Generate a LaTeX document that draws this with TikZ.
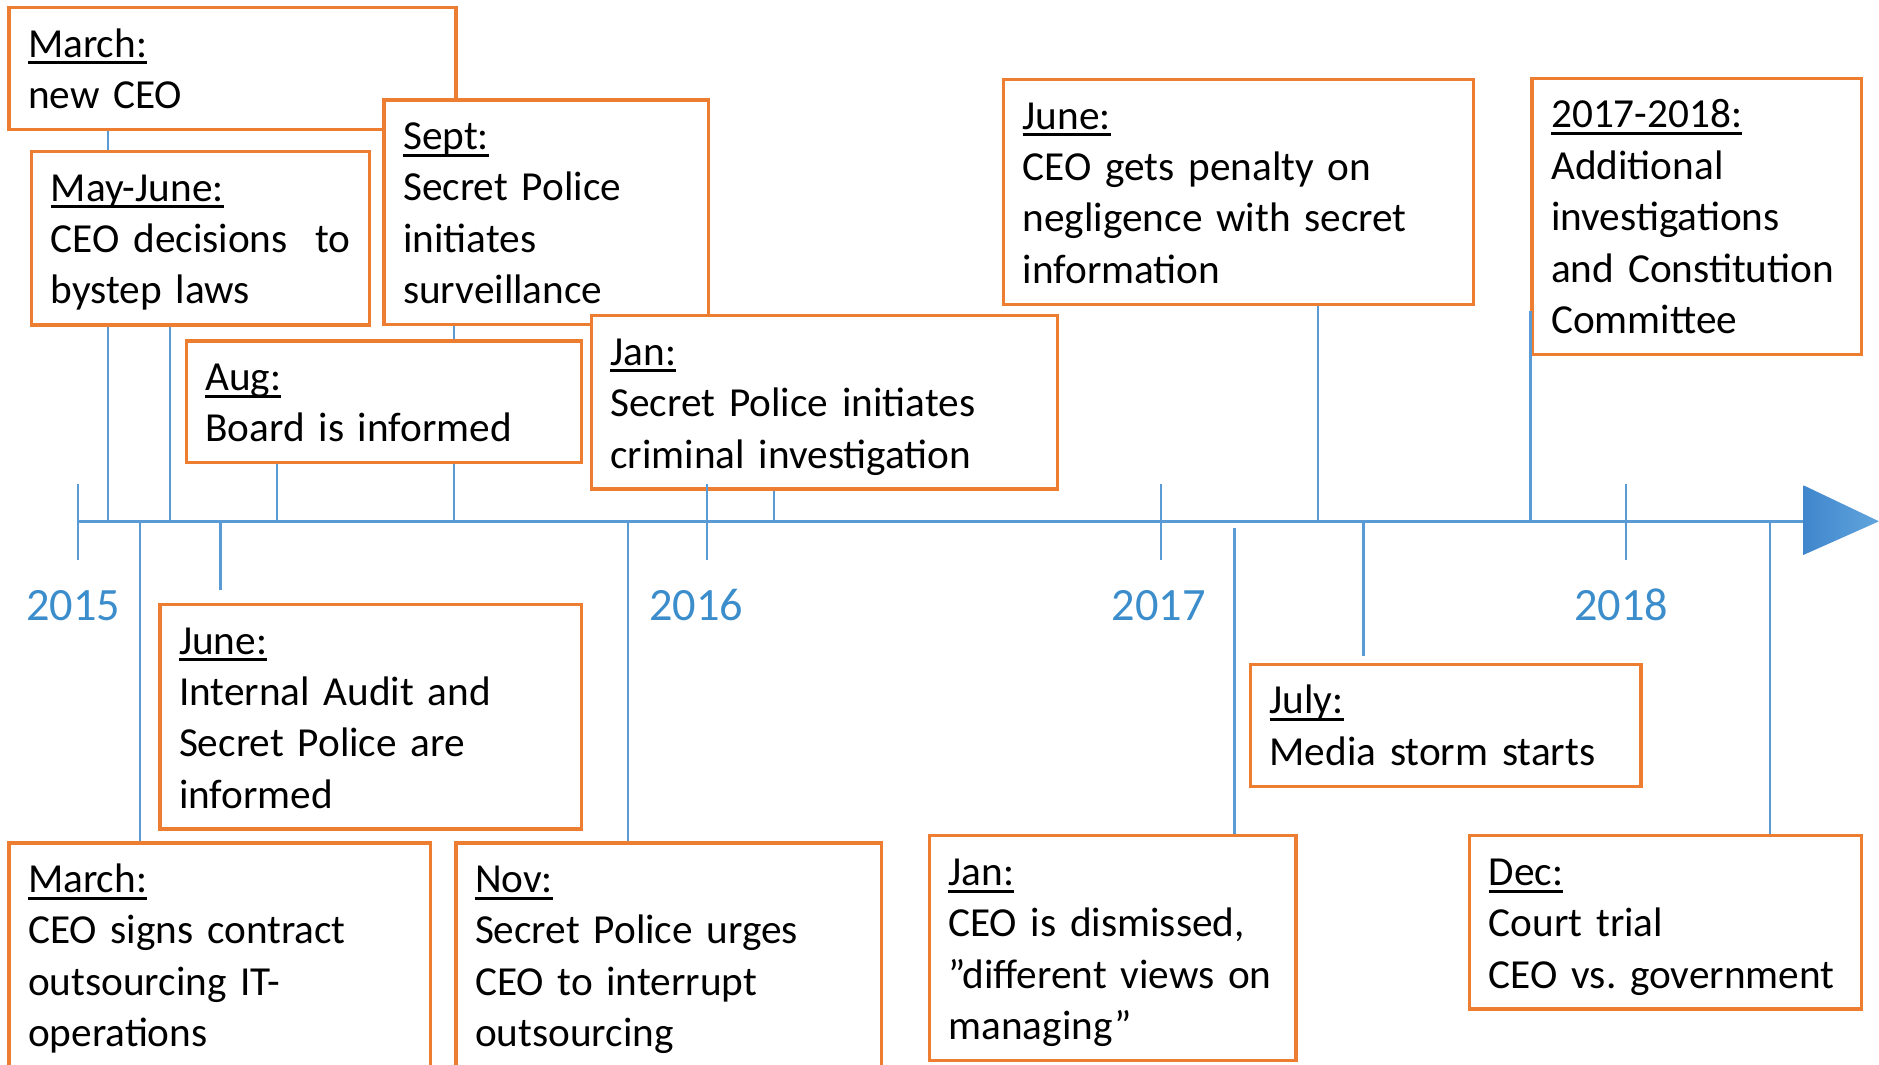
\documentclass[tikz,border=0pt]{standalone}
\usepackage{fontspec}
\setmainfont{Carlito}
\usepackage{xcolor}
\usepackage{tikz}
\usetikzlibrary{backgrounds}

\definecolor{boxorange}{HTML}{ED7D31}
\definecolor{lineblue}{HTML}{5B9BD5}
\definecolor{yearblue}{HTML}{3C8DCB}
\definecolor{tipdark}{HTML}{3F86CC}
\definecolor{tiplight}{HTML}{62A5DD}

\newcommand{\evline}{\rule[-2.7pt]{0pt}{12.2pt}}
\newcommand{\datetag}[1]{\setbox0\hbox{#1}\rlap{\rule[-1.7pt]{\wd0}{0.7pt}}\box0}
\newcommand{\evt}[2]{\evline\datetag{#1}\\#2\evline}

\begin{document}
\begin{tikzpicture}[
    event/.style={draw=boxorange, line width=0.8pt, fill=white, anchor=north west,
        align=left, inner xsep=0.16cm, inner ysep=0.08cm,
        font=\fontsize{9.8}{12.2}\selectfont},
    stem/.style={draw=lineblue, line width=0.6pt},
    year/.style={text=yearblue, font=\fontsize{11}{13}\selectfont}]
    \useasboundingbox (0,0) rectangle (15.68,-8.88);
    \clip (0,0) rectangle (15.68,-8.88);

    \node[event, text width=3.41cm] (newceo) at (0.06,-0.05) {\evt{March:}{new CEO}};
    \node[event, text width=2.50cm] (bypass) at (0.25,-1.25) {\evt{May-June:}{\mbox{CEO decisions\ \ to}\\bystep~laws}};
    \node[event, text width=2.39cm] (watch) at (3.19,-0.82) {\evt{Sept:}{Secret Police\\initiates\\surveillance}};
    \node[event, text width=2.98cm] (board) at (1.54,-2.83) {\evt{Aug:}{Board is informed}};
    \node[event, text width=3.57cm] (crime) at (4.92,-2.62) {\evt{Jan:}{Secret~Police~initiates\\criminal~investigation}};
    \node[event, text width=3.60cm] (penalty) at (8.36,-0.65) {\evt{June:}{CEO~gets~penalty~on\\negligence~with~secret\\information}};
    \node[event, text width=2.43cm] (inquiry) at (12.77,-0.64) {\evt{2017-2018:}{Additional\\investigations\\and~Constitution\\Committee}};

    \node[event, text width=3.20cm] (audit) at (1.32,-5.03) {\evt{June:}{Internal~Audit~and\\Secret~Police~are\\informed}};
    \node[event, text width=3.20cm] (contract) at (0.06,-7.02) {\evt{March:}{CEO~signs~contract\\outsourcing~IT-\\operations}};
    \node[event, text width=3.23cm] (urge) at (3.79,-7.02) {\evt{Nov:}{Secret~Police~urges\\CEO~to~interrupt\\outsourcing}};
    \node[event, text width=2.74cm] (dismiss) at (7.74,-6.96) {\evt{Jan:}{CEO~is~dismissed,\\”different~views~on\\managing”}};
    \node[event, text width=2.94cm] (media) at (10.42,-5.53) {\evt{July:}{Media~storm~starts}};
    \node[event, text width=2.95cm] (trial) at (12.25,-6.96) {\evt{Dec:}{Court~trial\\CEO~vs.~government}};

    \draw[stem] (0.65,-4.35) -- (15.05,-4.35);
    \shade[left color=tipdark, right color=tiplight] (15.05,-4.05) -- (15.68,-4.35) -- (15.05,-4.63) -- cycle;
    \foreach \x/\lx/\yr in {0.65/0.61/2015, 5.90/5.81/2016, 9.69/9.67/2017, 13.57/13.53/2018}
    {
        \draw[stem] (\x,-4.04) -- (\x,-4.67);
        \node[year] (y\yr) at (\lx,-5.05) {\yr};
    }

    \foreach \x/\ev in {0.90/newceo, 1.42/bypass, 2.31/board, 3.79/watch, 6.46/crime, 11.00/penalty, 12.77/inquiry,
                        1.17/contract, 1.84/audit, 5.24/urge, 10.30/dismiss, 11.38/media, 14.77/trial}
        \coordinate (t\ev) at (\x,-4.35);

    \begin{pgfonlayer}{background}
        \foreach \ev in {newceo, bypass, board, watch, crime, penalty}
            \draw[stem] (t\ev) -- (t\ev |- \ev.south);
        \foreach \ev in {contract, urge, trial}
            \draw[stem] (t\ev) -- (t\ev |- \ev.north);
        \draw[stem, shorten >=0.11cm] (taudit) -- (taudit |- audit.north);
        \draw[stem, shorten >=0.06cm] (tmedia) -- (tmedia |- media.north);
        \draw[stem, shorten <=0.06cm, shorten >=-0.06cm] (tdismiss) -- (tdismiss |- dismiss.north);
    \end{pgfonlayer}
    \draw[stem] (tinquiry) -- ([yshift=0.38cm]tinquiry |- inquiry.south);
\end{tikzpicture}
\end{document}
